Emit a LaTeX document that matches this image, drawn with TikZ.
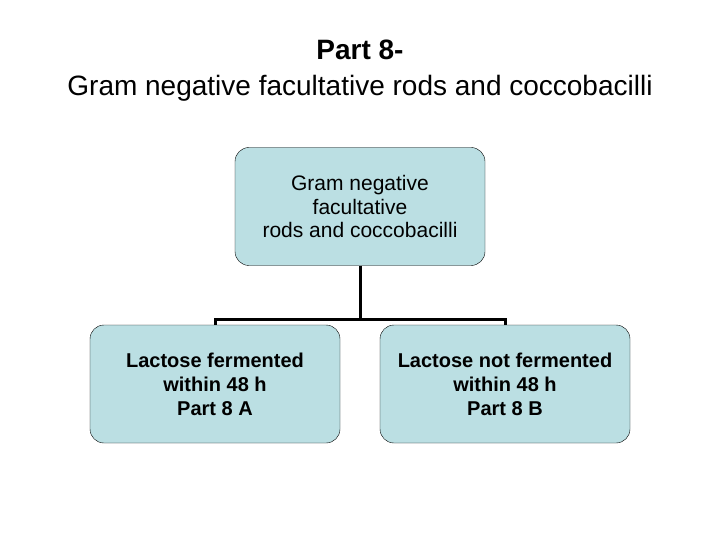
\documentclass[tikz,border=0pt]{standalone}
\usepackage{fontspec}
\setmainfont{Liberation Sans}
\begin{document}
\begin{tikzpicture}[x=1pt,y=-1pt,
  box/.style={draw=black,fill=boxblue,rounded corners=14pt,minimum width=250pt,minimum height=118pt,align=center,font=\fontsize{21}{23.5}\selectfont,inner sep=0pt},
  conn/.style={line width=3pt}]
\definecolor{boxblue}{HTML}{BBDFE3}
\useasboundingbox (0,0) rectangle (720,540);
\node[font=\bfseries\fontsize{28}{30}\selectfont] (t1) at (360,50) {Part 8-};
\node[font=\fontsize{28}{30}\selectfont] (t2) at (360,88) {Gram negative facultative rods and coccobacilli};
\node[box] (top) at (360,206.5) {Gram negative\\facultative\\rods and coccobacilli};
\node[box,font=\bfseries\fontsize{20}{24}\selectfont] (l) at (215,384) {Lactose fermented\\within 48 h\\Part 8 A};
\node[box,font=\bfseries\fontsize{20}{24}\selectfont] (r) at (505,384) {Lactose not fermented\\within 48 h\\Part 8 B};
\coordinate (j) at (360,319);
\draw[conn] (top.south) -- (j);
\draw[conn] (l.north) -- (l.north |- j) -- (r.north |- j) -- (r.north);
\end{tikzpicture}
\end{document}
